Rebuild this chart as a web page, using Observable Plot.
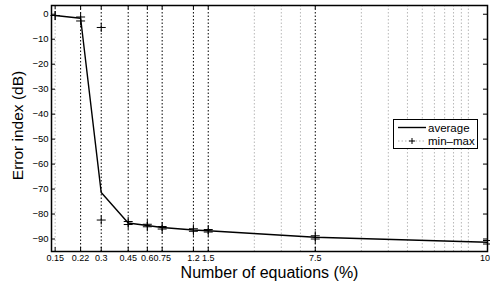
<!DOCTYPE html>
<html><head><meta charset="utf-8">
<script src="https://cdn.jsdelivr.net/npm/d3@7"></script>
<script src="https://cdn.jsdelivr.net/npm/@observablehq/plot@0.6"></script>
<style>
body{margin:0;background:#fff;}
#wrap{position:relative;width:490px;height:282px;overflow:hidden;font-family:"Liberation Sans",Arial,Helvetica,sans-serif;}
#legend{position:absolute;left:393px;top:119px;width:85px;height:30px;box-sizing:border-box;border:1px solid #000;background:#fff;font-size:11px;}
</style></head><body><div id="wrap"></div>
<script>
// Data
const percents = [0.15, 0.22, 0.3, 0.45, 0.6, 0.75, 1.2, 1.5, 7.5, 100];
const averageDb = [-0.5, -1.6, -71.4, -83.6, -84.6, -85.4, -86.4, -86.7, -89.3, -91.3];
const maxDb = [-0.5, -1.1, -5.3, -83.0, -84.1, -85.0, -85.9, -86.2, -88.7, -90.6];
const minDb = [-0.5, -2.7, -82.4, -84.2, -85.1, -86.0, -86.9, -87.2, -90.0, -92.0];
const xTickLabels = ["0.15", "0.22", "0.3", "0.45", "0.6", "0.75", "1.2", "1.5", "7.5", "100"];
const darkGrid = [0.22, 0.3, 0.45, 0.6, 0.75, 1.2, 1.5, 7.5];
const lightGrid = [0.15, 3, 4.5, 6, 15, 22.5, 30, 37.5, 45, 52.5, 60, 67.5, 75];
const yTicks = [0, -10, -20, -30, -40, -50, -60, -70, -80, -90];
const xDomain = [0.142, 100];
const yDomain = [-95, 3.5];

const avgData = percents.map((p, i) => ({x: p, y: averageDb[i]}));
const mmData = percents.flatMap((p, i) => [{x: p, y: maxDb[i]}, {x: p, y: minDb[i]}]);
const xTickData = percents.map((p, i) => ({x: p, label: xTickLabels[i]}));

const tickLenY = 1.6; // data units (~4px)
const tickLenXFactor = Math.pow(10, 4 / 153);

const chart = Plot.plot({
  width: 490,
  height: 282,
  marginLeft: 51,
  marginRight: 3,
  marginTop: 5,
  marginBottom: 31,
  style: {fontFamily: '"Liberation Sans", Arial, Helvetica, sans-serif', background: "#fff", overflow: "visible"},
  x: {type: "log", domain: xDomain, label: null, axis: null},
  y: {domain: yDomain, label: null},
  marks: [
    Plot.ruleX(lightGrid, {stroke: "#b8b8b8", strokeWidth: 1, strokeDasharray: "1.5,2"}),
    Plot.ruleX(darkGrid, {stroke: "#000", strokeWidth: 1, strokeDasharray: "1.5,2"}),
    // inward ticks
    Plot.ruleX(percents, {y1: yDomain[1], y2: yDomain[1] - tickLenY, stroke: "#000"}),
    Plot.ruleX(percents, {y1: yDomain[0], y2: yDomain[0] + tickLenY, stroke: "#000"}),
    Plot.ruleY(yTicks, {x1: xDomain[0], x2: xDomain[0] * tickLenXFactor, stroke: "#000"}),
    Plot.ruleY(yTicks, {x1: xDomain[1], x2: xDomain[1] / tickLenXFactor, stroke: "#000"}),
    Plot.line(avgData, {x: "x", y: "y", stroke: "#000", strokeWidth: 1.4}),
    Plot.dot(mmData, {x: "x", y: "y", symbol: "plus", r: 3, stroke: "#000", strokeWidth: 1}),
    Plot.frame({stroke: "#000", strokeWidth: 1.5}),
    Plot.text(xTickData, {x: "x", text: "label", frameAnchor: "bottom", lineAnchor: "top", dy: 3, fontSize: 9, fill: "#000"}),
    Plot.axisY(yTicks, {tickSize: 0, tickPadding: 3, fontSize: 9.5, label: null}),
    Plot.text(["Number of equations (%)"], {frameAnchor: "bottom", lineAnchor: "middle", textAnchor: "middle", dy: 21, fontSize: 16, fill: "#000"}),
    Plot.text(["Error index (dB)"], {frameAnchor: "left", textAnchor: "middle", lineAnchor: "middle", dx: -33, dy: -3, rotate: -90, fontSize: 15.5, fill: "#000"})
  ]
});
const wrap = document.getElementById("wrap");
wrap.appendChild(chart);

const legend = document.createElement("div");
legend.id = "legend";
legend.innerHTML = `<svg width="85" height="30" style="position:absolute;left:-1px;top:-1px;overflow:visible">
  <line x1="5" x2="33" y1="8.5" y2="8.5" stroke="#000" stroke-width="1.4"/>
  <text x="35" y="8.5" dy="0.35em" font-size="11.5" fill="#000">average</text>
  <line x1="5" x2="33" y1="22" y2="22" stroke="#b0b0b0" stroke-width="1" stroke-dasharray="1.5,2"/>
  <path d="M16,22h6M19,19v6" stroke="#000" stroke-width="1"/>
  <text x="35" y="22" dy="0.35em" font-size="11.5" fill="#000">min–max</text>
</svg>`;
wrap.appendChild(legend);
</script>
</body></html>
